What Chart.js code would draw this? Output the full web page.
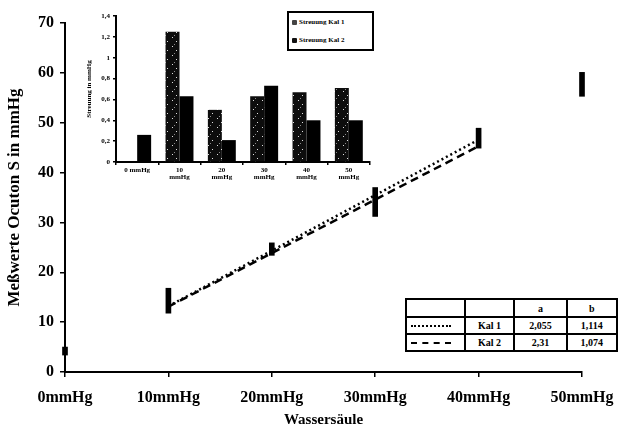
<!DOCTYPE html>
<html>
<head>
<meta charset="utf-8">
<script src="https://cdn.jsdelivr.net/npm/chart.js@4.4.1/dist/chart.umd.min.js"></script>
<style>
    body { margin: 0; background: #fff; }
    #wrap { position: relative; width: 629px; height: 433px; overflow: hidden; }
    #mainChart { position: absolute; left: 0; top: 0; }
    #insetChart { position: absolute; left: 80px; top: 0; }
    #insetLegend {
        position: absolute; left: 287px; top: 11px; width: 80px; height: 36px;
        border: 2px solid #000; font: bold 7px "Liberation Serif", serif;
        padding: 0 0 0 3px; box-sizing: content-box; background: #fff;
    }
    #insetLegend div { height: 18px; line-height: 18px; white-space: nowrap; }
    #insetLegend span.mark { display: inline-block; width: 5px; height: 5px; margin-right: 2px; vertical-align: -1px; border-radius: 1px; }
    #coefTable {
        position: absolute; left: 405px; top: 298px; width: 213px; height: 54px;
        border-collapse: collapse; font: bold 10px "Liberation Serif", serif; background: #fff;
    }
    #coefTable td { border: 2px solid #000; text-align: center; padding: 0; }
    .sample { width: 40px; margin: 0 auto 0 4px; border-top: 2px solid #000; }
</style>
</head>
<body>
<div id="wrap">
    <canvas id="mainChart" width="629" height="433"></canvas>
    <canvas id="insetChart" width="300" height="190"></canvas>
    <div id="insetLegend"></div>
    <table id="coefTable"></table>
</div>
<script>
// Main chart data (Wassersäule in mmHg vs. measured values)
const pressures = [0, 10, 20, 30, 40, 50];
const measuredLow = [3.4, 11.8, 23.4, 31.2, 44.9, 55.3];
const measuredHigh = [5.0, 16.8, 25.9, 37.0, 48.9, 60.1];
const fitX = [10, 40];
const kal1Fit = [13.2, 46.6];
const kal2Fit = [13.1, 45.3];

// Inset (Streuung) data
const insetCategories = ['0 mmHg', '10 mmHg', '20 mmHg', '30 mmHg', '40 mmHg', '50 mmHg'];
const spreadKal1 = [0, 1.25, 0.50, 0.63, 0.67, 0.71];
const spreadKal2 = [0.26, 0.63, 0.21, 0.73, 0.40, 0.40];
const seriesNames = ['Streuung Kal 1', 'Streuung Kal 2'];

// Coefficients table
const kalNames = ['Kal 1', 'Kal 2'];
const coefA = ['2,055', '2,31'];
const coefB = ['1,114', '1,074'];
const lineStyles = ['dotted', 'dashed'];

const serif = '"Liberation Serif", "DejaVu Serif", serif';

// speckled fill for Kal 1 bars
function speckle() {
    const c = document.createElement('canvas');
    c.width = 9; c.height = 9;
    const g = c.getContext('2d');
    g.fillStyle = '#0d0d0d';
    g.fillRect(0, 0, 9, 9);
    g.fillStyle = '#e0e0e0';
    g.fillRect(2, 1, 1, 1);
    g.fillRect(6, 5, 1, 1);
    g.fillStyle = '#8a8a8a';
    g.fillRect(4, 8, 1, 1);
    return g.createPattern(c, 'repeat');
}

new Chart(document.getElementById('mainChart'), {
    type: 'bar',
    data: {
        datasets: [{
            type: 'line',
            label: 'Kal 1',
            data: fitX.map((x, i) => ({ x: x, y: kal1Fit[i] })),
            borderColor: '#000',
            borderWidth: 2.5,
            borderDash: [2, 3],
            pointRadius: 0,
            fill: false
        }, {
            type: 'line',
            label: 'Kal 2',
            data: fitX.map((x, i) => ({ x: x, y: kal2Fit[i] })),
            borderColor: '#000',
            borderWidth: 2.5,
            borderDash: [8, 5],
            pointRadius: 0,
            fill: false
        }, {
            label: 'Messwerte',
            data: pressures.map((p, i) => ({ x: p, y: [measuredLow[i], measuredHigh[i]] })),
            backgroundColor: '#000',
            barThickness: 5,
            clip: false
        }]
    },
    options: {
        responsive: false,
        animation: false,
        layout: { padding: { top: 23, right: 47, left: 0, bottom: 0 } },
        plugins: { legend: { display: false }, tooltip: { enabled: false } },
        scales: {
            x: {
                type: 'linear',
                min: 0,
                max: 50,
                offset: false,
                afterFit: (s) => { s.height = 61; },
                grid: { display: true, drawOnChartArea: false, offset: false, color: '#000', tickLength: 5, lineWidth: 1.5 },
                border: { display: true, color: '#000', width: 2 },
                ticks: {
                    stepSize: 10,
                    color: '#000',
                    padding: 11,
                    maxRotation: 0,
                    font: { family: serif, size: 16, weight: 'bold' },
                    callback: (v) => v + 'mmHg'
                },
                title: {
                    display: true,
                    text: 'Wassersäule',
                    color: '#000',
                    font: { family: serif, size: 15, weight: 'bold' },
                    padding: { top: 0, bottom: 4 }
                }
            },
            y: {
                min: 0,
                max: 70,
                afterFit: (s) => { s.width = 65; },
                grid: { display: true, drawOnChartArea: false, color: '#000', tickLength: 5, lineWidth: 1.5 },
                border: { display: true, color: '#000', width: 2 },
                ticks: {
                    stepSize: 10,
                    color: '#000',
                    padding: 6,
                    font: { family: serif, size: 16, weight: 'bold' }
                },
                title: {
                    display: true,
                    text: 'Meßwerte Ocuton S in mmHg',
                    color: '#000',
                    font: { family: serif, size: 17, weight: 'bold' },
                    padding: { top: 4, bottom: 0 }
                }
            }
        }
    }
});

const pattern = speckle();

new Chart(document.getElementById('insetChart'), {
    type: 'bar',
    data: {
        labels: insetCategories.map((c) => c.startsWith('0 ') ? c : c.split(' ')),
        datasets: [{
            label: seriesNames[0],
            data: spreadKal1,
            backgroundColor: pattern
        }, {
            label: seriesNames[1],
            data: spreadKal2,
            backgroundColor: '#000'
        }]
    },
    options: {
        responsive: false,
        animation: false,
        layout: { padding: { top: 16, right: 10, left: 0, bottom: 0 } },
        plugins: { legend: { display: false }, tooltip: { enabled: false } },
        datasets: { bar: { categoryPercentage: 0.66, barPercentage: 1.0 } },
        scales: {
            x: {
                afterFit: (s) => { s.height = 28; },
                grid: { display: true, drawOnChartArea: false, color: '#000', tickLength: 3, lineWidth: 1.5 },
                border: { display: true, color: '#000', width: 2 },
                ticks: {
                    color: '#000',
                    padding: 1,
                    maxRotation: 0,
                    font: { family: serif, size: 7, weight: 'bold', lineHeight: 1.1 }
                }
            },
            y: {
                min: 0,
                max: 1.4,
                afterFit: (s) => { s.width = 36; },
                grid: { display: true, drawOnChartArea: false, color: '#000', tickLength: 3, lineWidth: 1.5 },
                border: { display: true, color: '#000', width: 2 },
                ticks: {
                    stepSize: 0.2,
                    color: '#000',
                    padding: 3,
                    font: { family: serif, size: 7, weight: 'bold' },
                    callback: (v) => String(Math.round(v * 10) / 10).replace('.', ',')
                },
                title: {
                    display: true,
                    text: 'Streuung in mmHg',
                    color: '#000',
                    font: { family: serif, size: 7, weight: 'bold' },
                    padding: { top: 5, bottom: 0 }
                }
            }
        }
    }
});

// inset legend
const legendBox = document.getElementById('insetLegend');
seriesNames.forEach((name, i) => {
    const row = document.createElement('div');
    const mark = document.createElement('span');
    mark.className = 'mark';
    mark.style.background = i === 0 ? '#444' : '#111';
    row.appendChild(mark);
    row.appendChild(document.createTextNode(name));
    legendBox.appendChild(row);
});

// coefficient table
const table = document.getElementById('coefTable');
const header = table.insertRow();
['', '', 'a', 'b'].forEach((t) => { header.insertCell().textContent = t; });
header.style.height = '18px';
kalNames.forEach((name, i) => {
    const row = table.insertRow();
    const sample = document.createElement('div');
    sample.className = 'sample';
    sample.style.borderTopStyle = lineStyles[i];
    row.insertCell().appendChild(sample);
    row.insertCell().textContent = name;
    row.insertCell().textContent = coefA[i];
    row.insertCell().textContent = coefB[i];
});
const widths = [58, 51, 53, 51];
Array.from(header.cells).forEach((c, i) => { c.style.width = widths[i] + 'px'; });
</script>
</body>
</html>
